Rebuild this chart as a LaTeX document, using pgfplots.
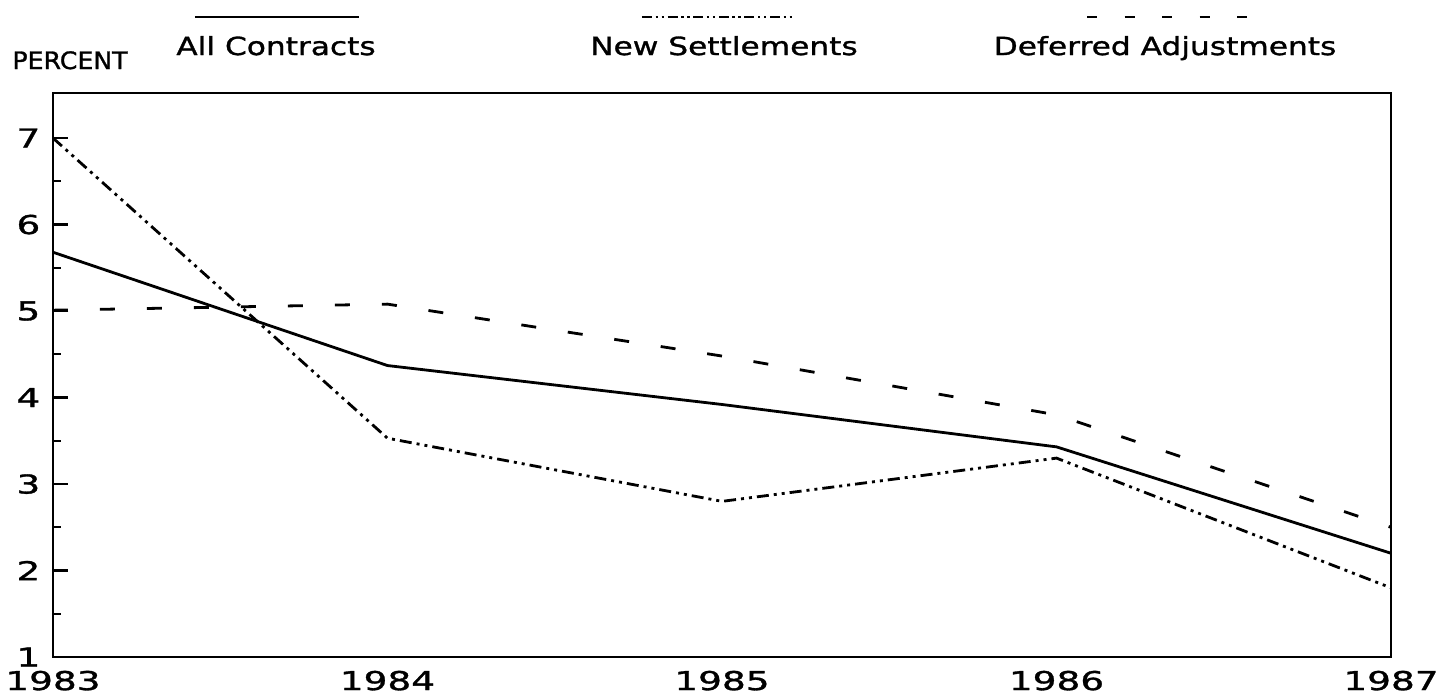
\documentclass[border=0pt]{standalone}
\usepackage{pgfplots}
\pgfplotsset{compat=1.18}
\usepackage{fontspec}
\setmainfont{DejaVu Sans}[FakeStretch=1.25, FakeBold=1.2]
\newfontfamily\pctfont{DejaVu Sans}[FakeStretch=1.05, FakeBold=1.2]
\newfontfamily\tickfont{DejaVu Sans}[FakeStretch=1.44, FakeBold=1.2]
\newcommand{\chartfont}{\fontsize{12.5}{14}\selectfont}
\begin{document}
\begin{tikzpicture}
\begin{axis}[
  scale only axis,
  width=669pt, height=282pt,
  xmin=1983, xmax=1987, ymin=1, ymax=7.52,
  axis line style={line width=1.3pt},
  xtick={1983,1984,1985,1986,1987},
  xticklabels={1983,1984,1985,1986,1987},
  ytick={1,2,3,4,5,6,7},
  minor y tick num=1,
  tick align=inside,
  major tick length=7.5pt, minor tick length=4pt,
  tick style={line width=1.1pt, black},
  x tick style={draw=none},
  ytick pos=left,
  xtick pos=bottom,
  /pgf/number format/assume math mode=true,
  every tick label/.append style={font=\tickfont\fontsize{13}{15}\selectfont},
  yticklabel style={xshift=-2.8pt},
  xticklabel style={anchor=base, yshift=-16.5pt},
  clip=false,
]
\addplot[black, line width=1.4pt] coordinates {(1983,5.68) (1984,4.37) (1985,3.92) (1986,3.43) (1987,2.2)};
\addplot[black, line width=1.4pt, dash pattern=on 6pt off 2.5pt on 1.5pt off 2.5pt on 1.5pt off 2.5pt] coordinates {(1983,7.0) (1984,3.53) (1985,2.8) (1986,3.3) (1987,1.8)};
\addplot[black, line width=1.4pt, dash pattern=on 7.5pt off 16pt] coordinates {(1983,5.01) (1984,5.08) (1985,4.48) (1986,3.8) (1987,2.5)};
% legend
\draw[black, line width=1.3pt] (rel axis cs:0.1061,1.1348) -- (rel axis cs:0.2287,1.1348);
\draw[black, line width=1.3pt, dash pattern=on 5pt off 1.8pt on 1.2pt off 1.8pt on 1.2pt off 1.8pt] (rel axis cs:0.4402,1.1348) -- (rel axis cs:0.5531,1.1348);
\draw[black, line width=1.3pt, dash pattern=on 5pt off 13.75pt] (rel axis cs:0.7728,1.1348) -- (rel axis cs:0.8924,1.1348);
\node[font=\chartfont, anchor=base] at (rel axis cs:0.1667,1.0674) {All Contracts};
\node[font=\chartfont, anchor=base] at (rel axis cs:0.5015,1.0674) {New Settlements};
\node[font=\chartfont, anchor=base] at (rel axis cs:0.8311,1.0674) {Deferred Adjustments};
\node[font=\pctfont\fontsize{12}{14}\selectfont, anchor=base west, inner sep=0pt] at (rel axis cs:-0.0306,1.0426) {PERCENT};
\coordinate (bbsw) at (rel axis cs:-0.0396,-0.0656);
\coordinate (bbne) at (rel axis cs:1.0381,1.165);
\end{axis}
\pgfresetboundingbox
\path (bbsw) rectangle (bbne);
\end{tikzpicture}
\end{document}
